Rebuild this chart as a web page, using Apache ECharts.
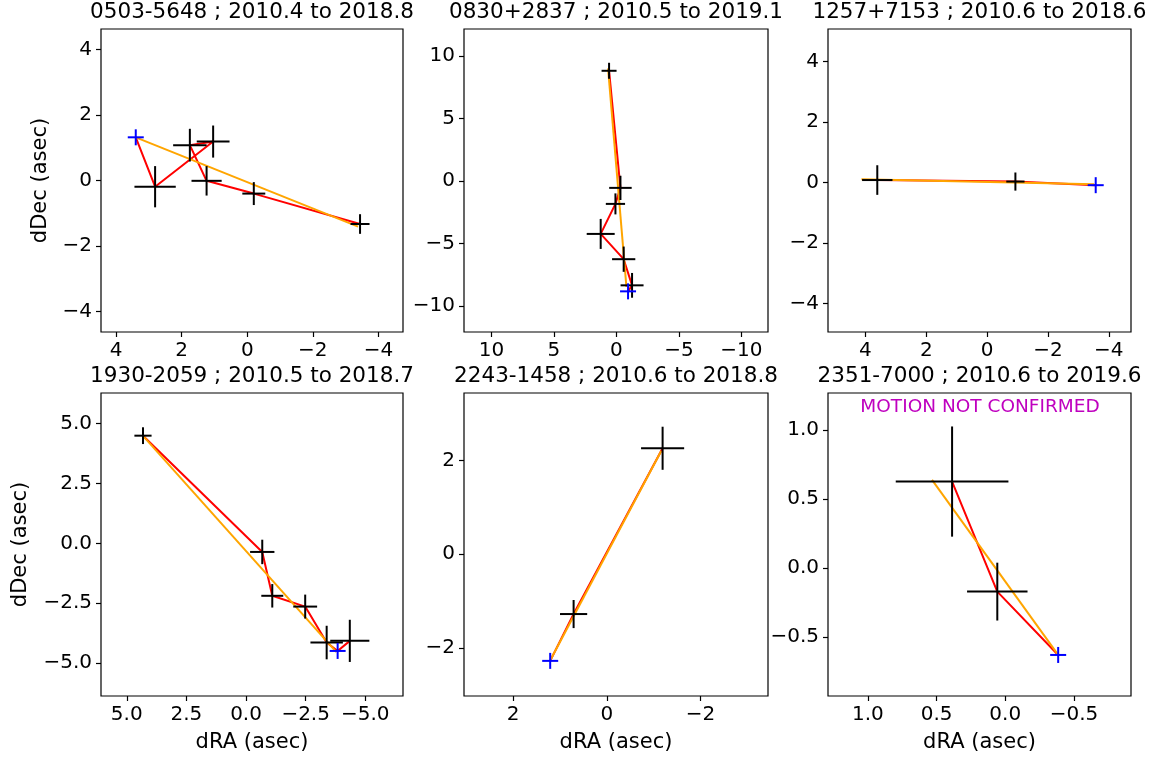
<!DOCTYPE html>
<html>
<head>
<meta charset="utf-8">
<script src="https://cdn.jsdelivr.net/npm/echarts@6/dist/echarts.min.js"></script>
<style>html,body{margin:0;padding:0;background:#fff;}#c{width:1157px;height:760px;}</style>
</head>
<body>
<div id="c"></div>
<script>
// ---- Data ----
const titles = [
  "0503-5648 ; 2010.4 to 2018.8",
  "0830+2837 ; 2010.5 to 2019.1",
  "1257+7153 ; 2010.6 to 2018.6",
  "1930-2059 ; 2010.5 to 2018.7",
  "2243-1458 ; 2010.6 to 2018.8",
  "2351-7000 ; 2010.6 to 2019.6"
];
// positions along the red track (dRA, dDec in asec), with error bars; blueIdx marks the blue "+"
const p1_ra   = [-3.44, -0.20, 1.24, 1.75, 1.04, 2.81, 3.40];
const p1_dec  = [-1.33, -0.40, -0.01, 1.08, 1.19, -0.19, 1.32];
const p1_era  = [0.29, 0.35, 0.46, 0.51, 0.50, 0.63, 0];
const p1_edec = [0.30, 0.35, 0.45, 0.50, 0.49, 0.63, 0];
const p1_blue = 6;
const p1_fitRA = [3.40, -3.38], p1_fitDec = [1.32, -1.41];

const p2_ra   = [0.59, -0.32, 0.08, 1.26, -0.58, -1.25, -0.93];
const p2_dec  = [8.80, -0.56, -1.84, -4.24, -6.26, -8.35, -8.83];
const p2_era  = [0.60, 0.90, 0.77, 1.12, 0.93, 0.92, 0];
const p2_edec = [0.64, 0.97, 0.84, 1.20, 1.01, 0.99, 0];
const p2_blue = 6;
const p2_fitRA = [0.67, -0.80], p2_fitDec = [8.99, -8.48];

const p3_ra   = [3.61, -0.93, -3.57];
const p3_dec  = [0.08, 0.03, -0.09];
const p3_era  = [0.50, 0.30, 0];
const p3_edec = [0.49, 0.30, 0];
const p3_blue = 2;
const p3_fitRA = [4.13, -3.52], p3_fitDec = [0.11, -0.06];

const p4_ra   = [4.32, -0.68, -1.10, -2.48, -3.38, -3.84, -4.35];
const p4_dec  = [4.49, -0.36, -2.19, -2.64, -4.14, -4.49, -4.07];
const p4_era  = [0.36, 0.51, 0.46, 0.50, 0.68, 0, 0.82];
const p4_edec = [0.35, 0.51, 0.49, 0.50, 0.70, 0, 0.88];
const p4_blue = 5;
const p4_fitRA = [4.30, -3.79], p4_fitDec = [4.46, -4.54];

const p5_ra   = [-1.19, 0.71, 1.21];
const p5_dec  = [2.26, -1.28, -2.28];
const p5_era  = [0.46, 0.29, 0];
const p5_edec = [0.46, 0.30, 0];
const p5_blue = 2;
const p5_fitRA = [-1.16, 1.20], p5_fitDec = [2.20, -2.25];

const p6_ra   = [0.387, 0.058, -0.385];
const p6_dec  = [0.627, -0.172, -0.632];
const p6_era  = [0.41, 0.22, 0];
const p6_edec = [0.40, 0.21, 0];
const p6_blue = 2;
const p6_fitRA = [0.533, -0.385], p6_fitDec = [0.639, -0.632];

// axis ranges and tick labels
const xRanges = [[-4.75, 4.46], [-12.13, 12.2], [-4.73, 5.23], [-6.58, 6.08], [-3.44, 3.05], [-0.915, 1.29]];
const yRanges = [[-4.63, 4.63], [-12.08, 12.14], [-4.95, 5.08], [-6.37, 6.27], [-3.03, 3.44], [-0.93, 1.27]];
const xTicks = [[-4, -2, 0, 2, 4], [-10, -5, 0, 5, 10], [-4, -2, 0, 2, 4], [-5, -2.5, 0, 2.5, 5], [-2, 0, 2], [-0.5, 0, 0.5, 1.0]];
const yTicks = [[-4, -2, 0, 2, 4], [-10, -5, 0, 5, 10], [-4, -2, 0, 2, 4], [-5, -2.5, 0, 2.5, 5], [-2, 0, 2], [-0.5, 0, 0.5, 1.0]];
const tickDecimals = [0, 0, 0, 1, 0, 1];
const note = "MOTION NOT CONFIRMED";

// ---- Build chart ----
const panels = [
  [p1_ra, p1_dec, p1_era, p1_edec, p1_blue, p1_fitRA, p1_fitDec],
  [p2_ra, p2_dec, p2_era, p2_edec, p2_blue, p2_fitRA, p2_fitDec],
  [p3_ra, p3_dec, p3_era, p3_edec, p3_blue, p3_fitRA, p3_fitDec],
  [p4_ra, p4_dec, p4_era, p4_edec, p4_blue, p4_fitRA, p4_fitDec],
  [p5_ra, p5_dec, p5_era, p5_edec, p5_blue, p5_fitRA, p5_fitDec],
  [p6_ra, p6_dec, p6_era, p6_edec, p6_blue, p6_fitRA, p6_fitDec]
];
const FONT = "DejaVu Sans";
const gridPos = [
  {left: 101, top: 29, width: 302, height: 303},
  {left: 464, top: 29, width: 304, height: 303},
  {left: 828, top: 29, width: 303, height: 303},
  {left: 101, top: 393, width: 302, height: 303},
  {left: 464, top: 393, width: 304, height: 303},
  {left: 828, top: 393, width: 303, height: 303}
];
function fmt(d) {
  return function (v) {
    const s = Math.abs(v).toFixed(d);
    return (v < -1e-9 ? "\u2212" : "") + s;
  };
}
const grid = [], xAxis = [], yAxis = [], series = [], title = [];
panels.forEach(function (p, i) {
  const g = gridPos[i];
  grid.push(Object.assign({show: true, borderColor: "#000", borderWidth: 1.2, backgroundColor: "#fff", containLabel: false}, g));
  title.push({
    text: titles[i], left: g.left + g.width / 2, top: g.top - 28, textAlign: "center", padding: 0,
    textStyle: {fontFamily: FONT, fontSize: 21.5, fontWeight: "normal", color: "#000"}
  });
  const axTick = {show: true, length: 5, inside: false, lineStyle: {color: "#000", width: 1.2}};
  xAxis.push({
    type: "value", gridIndex: i, inverse: true, min: xRanges[i][0], max: xRanges[i][1],
    position: "bottom",
    axisLine: {show: false, onZero: false}, splitLine: {show: false},
    axisTick: Object.assign({customValues: xTicks[i]}, axTick),
    axisLabel: {customValues: xTicks[i], formatter: fmt(tickDecimals[i]), fontFamily: FONT, fontSize: 20, color: "#000", margin: 9},
    name: i >= 3 ? "dRA (asec)" : "", nameLocation: "middle", nameGap: 36,
    nameTextStyle: {fontFamily: FONT, fontSize: 21, color: "#000"}
  });
  yAxis.push({
    type: "value", gridIndex: i, min: yRanges[i][0], max: yRanges[i][1],
    position: "left",
    axisLine: {show: false, onZero: false}, splitLine: {show: false},
    axisTick: Object.assign({customValues: yTicks[i]}, axTick),
    axisLabel: {customValues: yTicks[i], formatter: fmt(tickDecimals[i]), fontFamily: FONT, fontSize: 20, color: "#000", margin: 9},
    name: (i === 0 || i === 3) ? "dDec (asec)" : "", nameLocation: "middle", nameGap: i === 3 ? 70 : 50,
    nameTextStyle: {fontFamily: FONT, fontSize: 21, color: "#000"}
  });
  const [ra, dec, era, edec, blueIdx, fra, fdec] = p;
  const track = ra.map(function (x, k) { return [x, dec[k]]; });
  // red track
  series.push({
    type: "line", xAxisIndex: i, yAxisIndex: i, data: track, showSymbol: false, symbol: "none",
    lineStyle: {color: "#ff0000", width: 2}, z: 2, animation: false, silent: true
  });
  // orange fit
  series.push({
    type: "line", xAxisIndex: i, yAxisIndex: i, data: fra.map(function (x, k) { return [x, fdec[k]]; }),
    showSymbol: false, symbol: "none", lineStyle: {color: "#ffa500", width: 2}, z: 3, animation: false, silent: true
  });
  // black error bars
  const eb = [];
  ra.forEach(function (x, k) { if (k !== blueIdx) eb.push([x, dec[k], era[k], edec[k]]); });
  series.push({
    type: "custom", xAxisIndex: i, yAxisIndex: i, data: eb, encode: {x: 0, y: 1}, z: 4, animation: false, silent: true,
    renderItem: function (params, api) {
      const x = api.value(0), y = api.value(1), ex = api.value(2), ey = api.value(3);
      const l = api.coord([x - ex, y]), r = api.coord([x + ex, y]);
      const t = api.coord([x, y + ey]), b = api.coord([x, y - ey]);
      const st = {stroke: "#000", lineWidth: 2};
      return {type: "group", children: [
        {type: "line", shape: {x1: l[0], y1: l[1], x2: r[0], y2: r[1]}, style: st},
        {type: "line", shape: {x1: t[0], y1: t[1], x2: b[0], y2: b[1]}, style: st}
      ]};
    }
  });
  // blue plus marker
  series.push({
    type: "custom", xAxisIndex: i, yAxisIndex: i, data: [[ra[blueIdx], dec[blueIdx]]], encode: {x: 0, y: 1}, z: 5,
    animation: false, silent: true,
    renderItem: function (params, api) {
      const c = api.coord([api.value(0), api.value(1)]);
      const h = 8, st = {stroke: "#0000ff", lineWidth: 2};
      return {type: "group", children: [
        {type: "line", shape: {x1: c[0] - h, y1: c[1], x2: c[0] + h, y2: c[1]}, style: st},
        {type: "line", shape: {x1: c[0], y1: c[1] - h, x2: c[0], y2: c[1] + h}, style: st}
      ]};
    }
  });
});
title.push({
  text: note, left: 980, top: 398, textAlign: "center", padding: 0,
  textStyle: {fontFamily: FONT, fontSize: 18.5, fontWeight: "normal", color: "#bf00bf"}
});
const chart = echarts.init(document.getElementById("c"), null, {renderer: "canvas"});
chart.setOption({animation: false, backgroundColor: "#fff", title: title, grid: grid, xAxis: xAxis, yAxis: yAxis, series: series});
</script>
</body>
</html>
